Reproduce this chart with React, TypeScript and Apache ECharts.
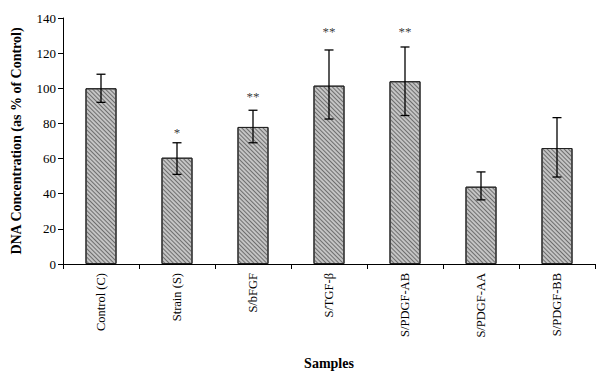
import React, { useEffect, useRef } from "react";
import * as echarts from "echarts";

const categories = ["Control (C)", "Strain (S)", "S/bFGF", "S/TGF-β", "S/PDGF-AB", "S/PDGF-AA", "S/PDGF-BB"];
const means = [100, 60.5, 78, 101.5, 104, 44, 66];
const errLow = [92, 51, 69, 82.5, 84.5, 36.5, 49.5];
const errHigh = [108, 69, 87.5, 121.8, 123.5, 52.4, 83.3];
const marks = ["", "*", "**", "**", "**", "", ""];
const markLevels = [null, 75, 95.5, 132.5, 132.5, null, null];
const yTicks = [0, 20, 40, 60, 80, 100, 120, 140];

const SERIF = "'Liberation Serif', 'Times New Roman', serif";

export default function App() {
  const ref = useRef<HTMLDivElement>(null);
  useEffect(() => {
    if (!ref.current) return;
    const chart = echarts.init(ref.current, undefined, { renderer: "svg" });
    chart.setOption({
      animation: false,
      backgroundColor: "#ffffff",
      grid: { left: 63, right: 5, top: 18, bottom: 111 },
      xAxis: {
        type: "category",
        data: categories,
        name: "Samples",
        nameLocation: "middle",
        nameGap: 92,
        nameTextStyle: { fontFamily: SERIF, fontWeight: "bold", fontSize: 14, color: "#000" },
        axisLine: { lineStyle: { color: "#000", width: 1 } },
        axisTick: { show: true, length: 5, lineStyle: { color: "#000" } },
        axisLabel: { rotate: 90, fontFamily: SERIF, fontSize: 12.5, color: "#000", margin: 9, interval: 0 },
      },
      yAxis: {
        type: "value",
        min: 0,
        max: 140,
        interval: 20,
        name: "DNA Concentration (as % of Control)",
        nameLocation: "middle",
        nameGap: 40,
        nameTextStyle: { fontFamily: SERIF, fontWeight: "bold", fontSize: 14, color: "#000" },
        axisLine: { show: true, lineStyle: { color: "#000", width: 1 } },
        axisTick: { show: true, length: 5, lineStyle: { color: "#000" } },
        axisLabel: {
          fontFamily: SERIF, fontSize: 13, color: "#000", margin: 7,
          formatter: (v: number) => (yTicks.includes(v) ? String(v) : ""),
        },
        splitLine: { show: false },
      },
      series: [
        {
          type: "bar",
          data: means,
          barWidth: 31,
          itemStyle: {
            color: "#c4c4c4",
            borderColor: "#222",
            borderWidth: 1,
            decal: {
              symbol: "rect",
              symbolSize: 1,
              color: "#6e6e6e",
              dashArrayX: [1, 0],
              dashArrayY: [1, 2],
              rotation: Math.PI / 4,
            },
          },
          z: 2,
        },
        {
          type: "custom",
          z: 5,
          data: categories.map((_, i) => [i, errLow[i], errHigh[i]]),
          renderItem: (params: any, api: any) => {
            const i = api.value(0);
            const lo = api.coord([i, api.value(1)]);
            const hi = api.coord([i, api.value(2)]);
            const x = lo[0];
            const cap = 4.5;
            const style = { stroke: "#000", lineWidth: 1.3 };
            return {
              type: "group",
              children: [
                { type: "line", shape: { x1: x, y1: hi[1], x2: x, y2: lo[1] }, style },
                { type: "line", shape: { x1: x - cap, y1: hi[1], x2: x + cap, y2: hi[1] }, style },
                { type: "line", shape: { x1: x - cap, y1: lo[1], x2: x + cap, y2: lo[1] }, style },
              ],
            };
          },
        },
        {
          type: "scatter",
          z: 6,
          symbolSize: 0,
          silent: true,
          data: markLevels.map((v, i) => (v == null ? null : { value: [i, v], name: marks[i] })),
          label: {
            show: true,
            position: "inside",
            formatter: (p: any) => p.name,
            fontFamily: SERIF,
            fontSize: 13,
            color: "#000",
          },
        },
      ],
    });
    return () => chart.dispose();
  }, []);
  return <div ref={ref} style={{ width: 600, height: 375, position: "absolute", left: 0, top: 0 }} />;
}
